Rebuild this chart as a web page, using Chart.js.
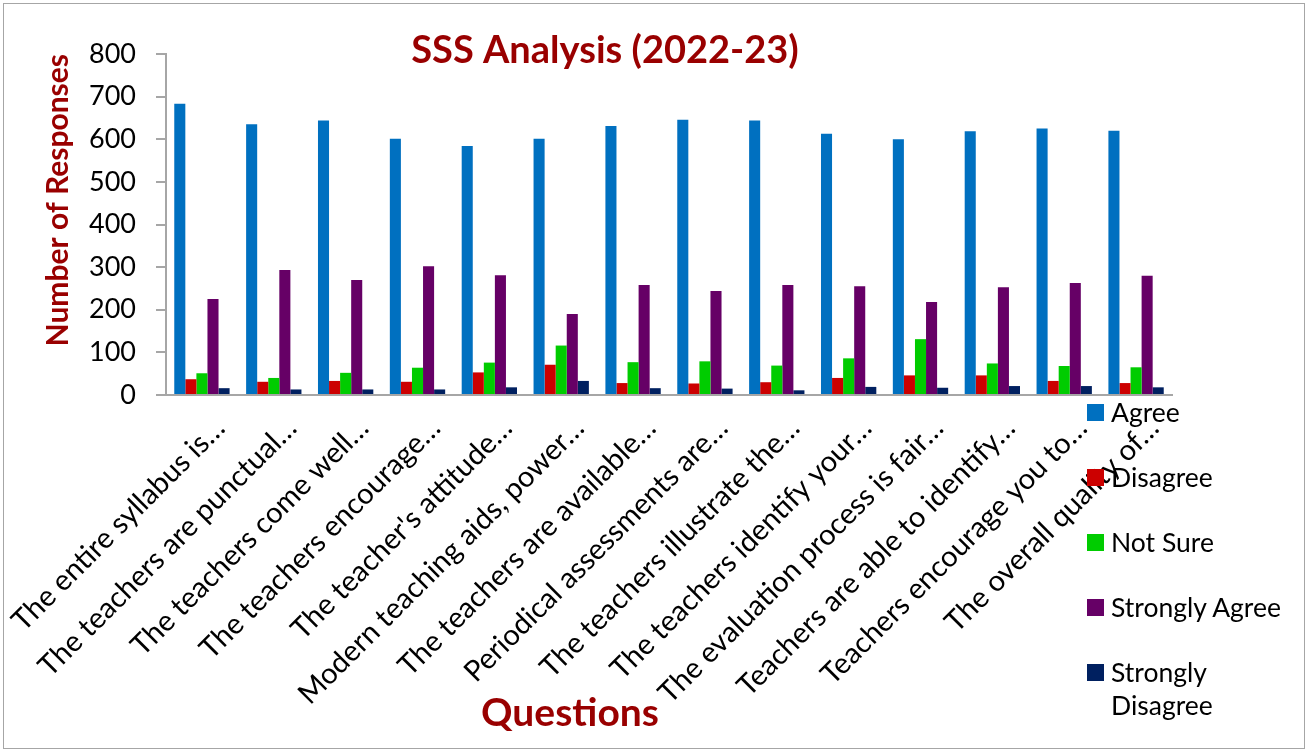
<!DOCTYPE html>
<html>
<head>
<meta charset="utf-8">
<title>SSS Analysis (2022-23)</title>
<script src="https://cdn.jsdelivr.net/npm/chart.js@4.4.1/dist/chart.umd.min.js"></script>
<style>
    body { margin: 0; background: #fff; font-family: Lato, sans-serif; }
    #wrap { position: relative; width: 1309px; height: 752px; }
    #frame { position: absolute; left: 3px; top: 3px; width: 1302px; height: 746px; border: 1px solid #a6a6a6; box-sizing: border-box; }
    #sssChart { position: absolute; left: 0; top: 0; }
    #legend { position: absolute; left: 1087px; top: 404px; }
    .legend-item { position: absolute; left: 0; width: 210px; }
    .legend-box { position: absolute; left: 0; top: 0; width: 17px; height: 17px; }
    .legend-text { position: absolute; left: 24px; top: -8px; width: 185px; font-size: 26.5px; line-height: 33px; color: #000; }
</style>
</head>
<body>
<div id="wrap">
    <div id="frame"></div>
    <canvas id="sssChart" width="1309" height="752"></canvas>
    <div id="legend"></div>
</div>
<script>
const questions = [
    'The entire syllabus is…',
    'The teachers are punctual…',
    'The teachers come well…',
    'The teachers encourage…',
    "The teacher's attitude…",
    'Modern teaching aids, power…',
    'The teachers are available…',
    'Periodical assessments are…',
    'The teachers illustrate the…',
    'The teachers identify your…',
    'The evaluation process is fair…',
    'Teachers are able to identify…',
    'Teachers encourage you to…',
    'The overall quality of…'
];

const seriesNames = ['Agree', 'Disagree', 'Not Sure', 'Strongly Agree', 'Strongly Disagree'];
const seriesColors = ['#0070C0', '#CC0000', '#00CC00', '#660066', '#002060'];

const agree = [683, 635, 644, 601, 584, 601, 631, 646, 644, 613, 600, 619, 625, 620];
const disagree = [37, 31, 33, 31, 53, 71, 28, 27, 30, 40, 46, 46, 33, 28];
const notSure = [51, 40, 52, 64, 76, 116, 77, 79, 69, 86, 131, 74, 68, 65];
const stronglyAgree = [225, 293, 270, 302, 281, 190, 258, 244, 258, 255, 218, 253, 263, 280];
const stronglyDisagree = [16, 13, 13, 13, 18, 33, 16, 15, 11, 19, 17, 21, 21, 18];

const yTicks = [0, 100, 200, 300, 400, 500, 600, 700, 800];

const chartTitle = 'SSS Analysis (2022-23)';
const xTitle = 'Questions';
const yTitle = 'Number of Responses';
const titleColor = '#990000';
const axisColor = '#a6a6a6';

const seriesValues = [agree, disagree, notSure, stronglyAgree, stronglyDisagree];

// titles placed like the original (not centred on the plot)
const titlesPlugin = {
    id: 'titles',
    afterDraw(chart) {
        const ctx = chart.ctx;
        ctx.save();
        ctx.fillStyle = titleColor;
        ctx.textAlign = 'center';
        ctx.textBaseline = 'middle';
        ctx.font = 'bold 38px Lato';
        ctx.fillText(chartTitle, 605, 51);
        ctx.font = 'bold 39px Lato';
        ctx.fillText(xTitle, 570, 713);
        ctx.restore();
    }
};

const ctx = document.getElementById('sssChart').getContext('2d');
const sssChart = new Chart(ctx, {
    type: 'bar',
    data: {
        labels: questions,
        datasets: seriesNames.map((name, i) => ({
            label: name,
            data: seriesValues[i],
            backgroundColor: seriesColors[i],
            borderWidth: 0,
            categoryPercentage: 0.77,
            barPercentage: 1.0
        }))
    },
    options: {
        responsive: false,
        animation: false,
        layout: {
            padding: { top: 54, right: 137, bottom: 0, left: 0 }
        },
        plugins: {
            legend: { display: false },
            tooltip: { enabled: false }
        },
        scales: {
            x: {
                grid: { display: false, drawTicks: false },
                border: { display: true, color: axisColor, width: 2 },
                ticks: {
                    color: '#000',
                    font: { family: 'Lato', size: 29 },
                    minRotation: 45,
                    maxRotation: 45,
                    autoSkip: false,
                    padding: 16,
                    labelOffset: 18
                },
                afterFit(scale) {
                    scale.height = 357;
                    scale.paddingLeft = 0;
                    scale.paddingRight = 0;
                }
            },
            y: {
                min: 0,
                max: 800,
                afterBuildTicks(scale) {
                    scale.ticks = yTicks.map(v => ({ value: v }));
                },
                grid: { display: true, drawOnChartArea: false, drawTicks: true, tickLength: 10, color: axisColor, lineWidth: 2 },
                border: { display: true, color: axisColor, width: 2 },
                ticks: {
                    color: '#000',
                    font: { family: 'Lato', size: 27 },
                    padding: 20
                },
                title: {
                    display: true,
                    text: yTitle,
                    align: 'end',
                    color: titleColor,
                    font: { family: 'Lato', size: 30, weight: 'bold' },
                    padding: { top: 40, bottom: 0 }
                },
                afterFit(scale) {
                    scale.width = 166;
                }
            }
        }
    },
    plugins: [titlesPlugin]
});

function buildLegend() {
    const legend = document.getElementById('legend');
    seriesNames.forEach((name, i) => {
        const item = document.createElement('div');
        item.className = 'legend-item';
        item.style.top = (i * 65) + 'px';
        item.innerHTML = `
            <div class="legend-box" style="background:${seriesColors[i]}"></div>
            <div class="legend-text">${name}</div>
        `;
        legend.appendChild(item);
    });
}

buildLegend();
</script>
</body>
</html>
